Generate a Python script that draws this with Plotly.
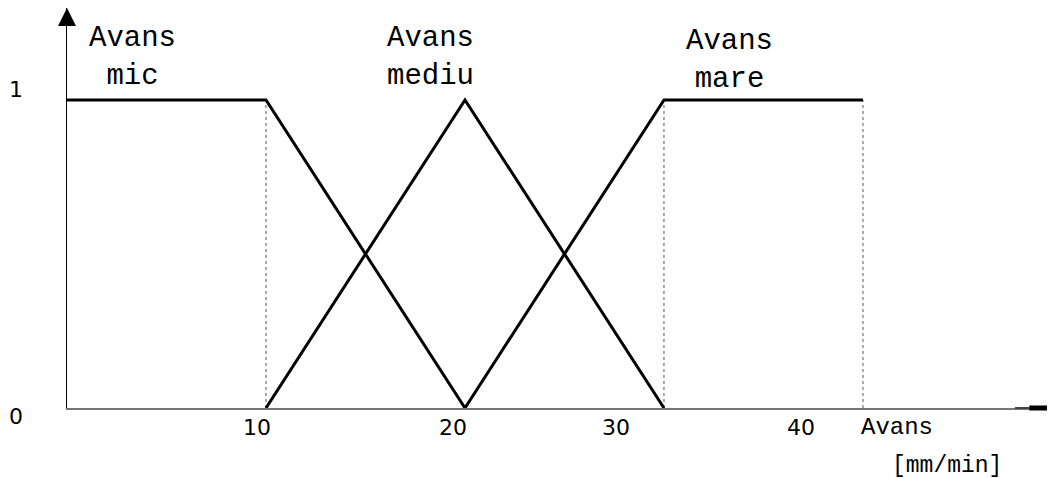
import plotly.graph_objects as go

# membership functions (Avans [mm/min] vs degree)
mic_x = [0, 10, 20]
mic_y = [1, 1, 0]
mediu_x = [10, 20, 30]
mediu_y = [0, 1, 0]
mare_x = [20, 30, 40]
mare_y = [0, 1, 1]
guide_x = [10, 30, 40]

tick_labels = ["10", "20", "30", "40"]
tick_pos = [9.55, 19.4, 27.6, 36.9]
y_labels = ["0", "1"]
y_vals = [0, 1]

set_names = ["Avans<br>mic", "Avans<br>mediu", "Avans<br>mare"]
set_pos = [3.3, 18.25, 33.3]
set_shift = [5, 5, 2]

fig = go.Figure()
for gx in guide_x:
    fig.add_trace(go.Scatter(x=[gx, gx], y=[0, 1], mode="lines",
                             line=dict(color="#555", width=1, dash="dot"),
                             hoverinfo="skip", showlegend=False))
for xs, ys in [(mic_x, mic_y), (mediu_x, mediu_y), (mare_x, mare_y)]:
    fig.add_trace(go.Scatter(x=xs, y=ys, mode="lines",
                             line=dict(color="black", width=3),
                             showlegend=False))

mono = "Liberation Mono, Courier New, monospace"
sans = "DejaVu Sans, sans-serif"

for name, px, sh in zip(set_names, set_pos, set_shift):
    fig.add_annotation(x=px, y=1.0, yshift=sh, text=name, showarrow=False,
                       yanchor="bottom", font=dict(family=mono, size=29, color="black"))

for lab, px in zip(tick_labels, tick_pos):
    fig.add_annotation(x=px, y=0, yshift=-19, text=lab, showarrow=False,
                       font=dict(family=sans, size=22, color="black"))
for lab, v in zip(y_labels, y_vals):
    fig.add_annotation(x=-0.0516, xref="paper", xanchor="center", y=v,
                       yshift=-8 if v == 0 else 11,
                       text=lab, showarrow=False,
                       font=dict(family=sans, size=22, color="black"))

fig.add_annotation(x=41.7, y=0, yshift=-19, text="Avans", showarrow=False,
                   font=dict(family=mono, size=24, color="black"))
fig.add_annotation(x=44.2, y=0, yshift=-58, text="[mm/min]", showarrow=False,
                   font=dict(family=mono, size=23, color="black"))

# y-axis arrow
fig.add_annotation(x=0, y=1.2987, ax=0, ay=1.235, xref="x", yref="y", axref="x", ayref="y",
                   text="", showarrow=True, arrowhead=2, arrowsize=0.9, arrowwidth=4,
                   arrowcolor="black")
# thick end of x-axis (paper-referenced so it is not clipped)
fig.add_shape(type="line", xref="paper", yref="paper", x0=0.9595, x1=0.974, y0=0, y1=0,
              line=dict(color="#444", width=2))
fig.add_shape(type="line", xref="paper", yref="paper", x0=0.974, x1=1.0, y0=0, y1=0,
              line=dict(color="black", width=5))

fig.update_xaxes(range=[0, 49.65], showgrid=False, zeroline=False, showticklabels=False,
                 showline=True, linecolor="#777", linewidth=1.5, ticks="")
fig.update_yaxes(range=[0, 1.2987], showgrid=False, zeroline=False, showticklabels=False,
                 showline=True, linecolor="black", linewidth=1, ticks="")
fig.update_layout(width=1047, height=470, margin=dict(l=59, r=0, t=0, b=70),
                  plot_bgcolor="white", paper_bgcolor="white")
fig.write_html("out.html")
